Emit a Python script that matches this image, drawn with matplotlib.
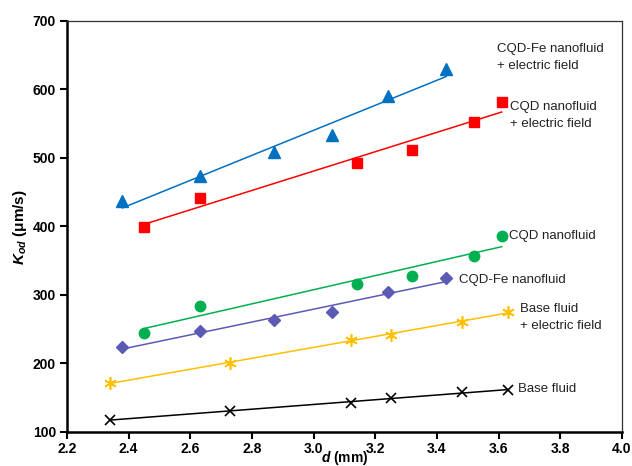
import numpy as np
import matplotlib
matplotlib.use('Agg')
import matplotlib.pyplot as plt

plt.rcParams['font.family'] = ['Liberation Sans', 'DejaVu Sans']
plt.rcParams['mathtext.fontset'] = 'custom'
plt.rcParams['mathtext.it'] = 'Liberation Sans:bold:italic'
plt.rcParams['mathtext.rm'] = 'Liberation Sans:bold'

# droplet diameter d (mm) and K_od (um/s) for each fluid
d_fe_ef = [2.38, 2.63, 2.87, 3.06, 3.24, 3.43]
k_fe_ef = [437, 473, 508, 533, 590, 630]
d_cqd_ef = [2.45, 2.63, 3.14, 3.32, 3.52, 3.61]
k_cqd_ef = [399, 442, 492, 512, 553, 582]
d_cqd = [2.45, 2.63, 3.14, 3.32, 3.52, 3.61]
k_cqd = [245, 284, 316, 327, 357, 386]
d_fe = [2.38, 2.63, 2.87, 3.06, 3.24, 3.43]
k_fe = [224, 247, 264, 275, 304, 325]
d_base_ef = [2.34, 2.73, 3.12, 3.25, 3.48, 3.63]
k_base_ef = [172, 200, 235, 242, 261, 275]
d_base = [2.34, 2.73, 3.12, 3.25, 3.48, 3.63]
k_base = [118, 130, 143, 150, 158, 161]

series = [
    (d_fe_ef, k_fe_ef, '#0070C0', '^', 8.5, 'CQD-Fe nanofluid\n+ electric field', (3.596, 668)),
    (d_cqd_ef, k_cqd_ef, '#FF0000', 's', 7.5, 'CQD nanofluid\n+ electric field', (3.637, 583)),
    (d_cqd, k_cqd, '#00B050', 'o', 7.5, 'CQD nanofluid', (3.635, 395)),
    (d_fe, k_fe, '#5B5BB5', 'D', 6, 'CQD-Fe nanofluid', (3.473, 330)),
    (d_base_ef, k_base_ef, '#FFC000', (6, 2, 0), 9, 'Base fluid\n+ electric field', (3.67, 288)),
    (d_base, k_base, '#000000', 'x', 7.5, 'Base fluid', (3.664, 172)),
]

fig = plt.figure(figsize=(6.32, 4.66), dpi=100)
ax = fig.add_axes([0.106, 0.073, 0.878, 0.882])

for x, y, c, m, ms, label, pos in series:
    x = np.array(x)
    y = np.array(y)
    # linear trend over the measured range
    a, b = np.polyfit(x, y, 1)
    xx = np.array([x.min(), x.max()])
    ax.plot(xx, a * xx + b, color=c, lw=1.1)
    if m == 'x' or isinstance(m, tuple):
        ax.plot(x, y, ls='none', marker=m, ms=ms, color=c, mew=1.2)
    else:
        ax.plot(x, y, ls='none', marker=m, ms=ms, color=c, mec=c)
    ax.text(pos[0], pos[1], label, fontsize=9.5, va='top', ha='left',
            color='#222222', linespacing=1.55)

ax.set_xlim(2.2, 4.0)
ax.set_ylim(100, 700)
ax.set_xticks(np.arange(2.2, 4.01, 0.2))
ax.set_yticks(np.arange(100, 701, 100))
ax.set_xticklabels(['%.1f' % v for v in np.arange(2.2, 4.01, 0.2)])
for lab in ax.get_xticklabels() + ax.get_yticklabels():
    lab.set_fontweight('bold')
    lab.set_fontsize(10)
ax.tick_params(direction='out', length=5, width=1.5, pad=3)
ax.tick_params(axis='x', pad=2)

ax.spines['left'].set_linewidth(1.8)
ax.spines['bottom'].set_linewidth(1.8)
ax.spines['top'].set_linewidth(0.9)
ax.spines['right'].set_linewidth(0.9)
ax.spines['top'].set_color('#333333')
ax.spines['right'].set_color('#333333')

fig.text(0.032, 0.513, r'$K_{od}$ (μm/s)', rotation=90, ha='center', va='center',
         fontsize=11, fontweight='bold')
fig.text(0.546, 0.017, r'$d$ (mm)', ha='center', va='center',
         fontsize=10, fontweight='bold')

fig.savefig('out.png', dpi=100)
